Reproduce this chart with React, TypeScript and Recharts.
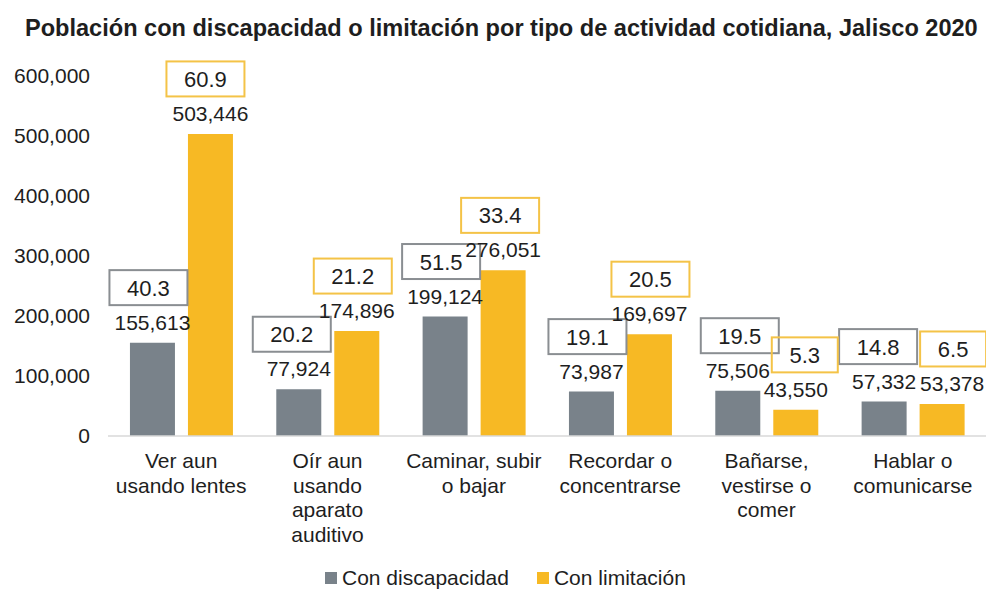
import React, { useLayoutEffect, useRef, useState } from 'react';
import { BarChart, Bar, XAxis, YAxis, LabelList, Legend } from 'recharts';

const title = 'Población con discapacidad o limitación por tipo de actividad cotidiana, Jalisco 2020';
const categories = [
  'Ver aun\nusando lentes',
  'Oír aun\nusando\naparato\nauditivo',
  'Caminar, subir\no bajar',
  'Recordar o\nconcentrarse',
  'Bañarse,\nvestirse o\ncomer',
  'Hablar o\ncomunicarse',
];
const discapacidad = [155613, 77924, 199124, 73987, 75506, 57332];
const limitacion = [503446, 174896, 276051, 169697, 43550, 53378];
const pctDiscapacidad = [40.3, 20.2, 51.5, 19.1, 19.5, 14.8];
const pctLimitacion = [60.9, 21.2, 33.4, 20.5, 5.3, 6.5];
const yTicks = [0, 100000, 200000, 300000, 400000, 500000, 600000];
const seriesNames = ['Con discapacidad', 'Con limitación'];

// layout nudges (pixels) for crowded labels, not data
const valueNudgeDisc = [0, 0, 0, 0, 0, 0];
const valueNudgeLim = [0, 0, 0, 0, 0, 10];
const boxNudgeDisc = [-4, -7, -4, -4, 2, -6];
const boxNudgeLim = [-5, -4, -3, 1, 9, 11];

const FONT = '"Liberation Sans", Arial, Helvetica, sans-serif';
const GRAY = '#79828a';
const YELLOW = '#f7b924';
const TEXT = '#1e1e1e';

const data = categories.map((c, i) => ({
  cat: c,
  disc: discapacidad[i],
  lim: limitacion[i],
}));

const fmt = (v: number) => Number(v).toLocaleString('en-US');

const makeLabel = (pcts: number[], stroke: string, vNudge: number[], bNudge: number[]) => (props: any) => {
  const { x, y, width, index, value } = props;
  const cx = Number(x) + Number(width) / 2;
  const top = Number(y);
  const pct = pcts[index].toFixed(1);
  const bw = pct.length > 3 ? 78 : 66;
  const bh = 35;
  const bcx = cx + bNudge[index];
  const bcy = top - 55;
  return (
    <g>
      <text x={cx + vNudge[index]} y={top - 13} textAnchor="middle" fontSize={21} fill={TEXT} fontFamily={FONT}>
        {fmt(value)}
      </text>
      <rect x={bcx - bw / 2} y={bcy - bh / 2} width={bw} height={bh} fill="none" stroke={stroke} strokeWidth={2} />
      <text x={bcx} y={bcy + 8} textAnchor="middle" fontSize={22} fill={TEXT} fontFamily={FONT}>
        {pct}
      </text>
    </g>
  );
};

const XTick = (props: any) => {
  const { x, y, payload } = props;
  const lines = String(payload.value).split('\n');
  return (
    <g transform={`translate(${x},${y})`}>
      {lines.map((l, i) => (
        <text key={i} x={0} y={0} dy={24 + i * 24.5} textAnchor="middle" fontSize={21} fill={TEXT} fontFamily={FONT}>
          {l}
        </text>
      ))}
    </g>
  );
};

const LegendContent = () => (
  <div style={{ display: 'flex', alignItems: 'center', paddingLeft: 325, height: 24, fontFamily: FONT, fontSize: 21, color: TEXT }}>
    <span style={{ display: 'inline-block', width: 12, height: 12, background: GRAY, marginRight: 5 }} />
    <span style={{ marginRight: 28 }}>{seriesNames[0]}</span>
    <span style={{ display: 'inline-block', width: 12, height: 12, background: YELLOW, marginRight: 5 }} />
    <span>{seriesNames[1]}</span>
  </div>
);

const Title = () => {
  const ref = useRef<SVGTextElement>(null);
  const [sx, setSx] = useState(0.88);
  useLayoutEffect(() => {
    if (ref.current) {
      const len = ref.current.getComputedTextLength();
      if (len > 0) setSx(953 / len);
    }
  }, []);
  return (
    <svg width={986} height={46} style={{ position: 'absolute', left: 0, top: 0 }}>
      <g transform={`translate(25,36) scale(${sx},1)`}>
        <text ref={ref} x={0} y={0} fontSize={24} fontWeight="bold" fill={TEXT} fontFamily={FONT}>
          {title}
        </text>
      </g>
    </svg>
  );
};

export default function App() {
  return (
    <div style={{ position: 'absolute', left: 0, top: 0, width: 986, height: 590, background: '#fff', fontFamily: FONT }}>
      <Title />
      <div style={{ position: 'absolute', left: 0, top: 0 }}>
        <BarChart
          width={986}
          height={590}
          data={data}
          margin={{ top: 76, right: 0, left: 8, bottom: 0 }}
          barCategoryGap="15%"
          barGap={13}
        >
          <XAxis
            dataKey="cat"
            interval={0}
            height={130}
            tickLine={false}
            axisLine={{ stroke: '#d9d9d9', strokeWidth: 1.5 }}
            tick={<XTick />}
          />
          <YAxis
            domain={[0, 600000]}
            ticks={yTicks}
            width={100}
            axisLine={false}
            tickLine={false}
            tickMargin={12}
            tickFormatter={fmt}
            tick={{ fontSize: 21, fill: TEXT, fontFamily: FONT }}
          />
          <Legend verticalAlign="bottom" wrapperStyle={{ left: 0, width: 986 }} content={<LegendContent />} />
          <Bar dataKey="disc" name={seriesNames[0]} fill={GRAY} isAnimationActive={false}>
            <LabelList dataKey="disc" content={makeLabel(pctDiscapacidad, '#8a8e92', valueNudgeDisc, boxNudgeDisc)} />
          </Bar>
          <Bar dataKey="lim" name={seriesNames[1]} fill={YELLOW} isAnimationActive={false}>
            <LabelList dataKey="lim" content={makeLabel(pctLimitacion, '#f4c347', valueNudgeLim, boxNudgeLim)} />
          </Bar>
        </BarChart>
      </div>
    </div>
  );
}
